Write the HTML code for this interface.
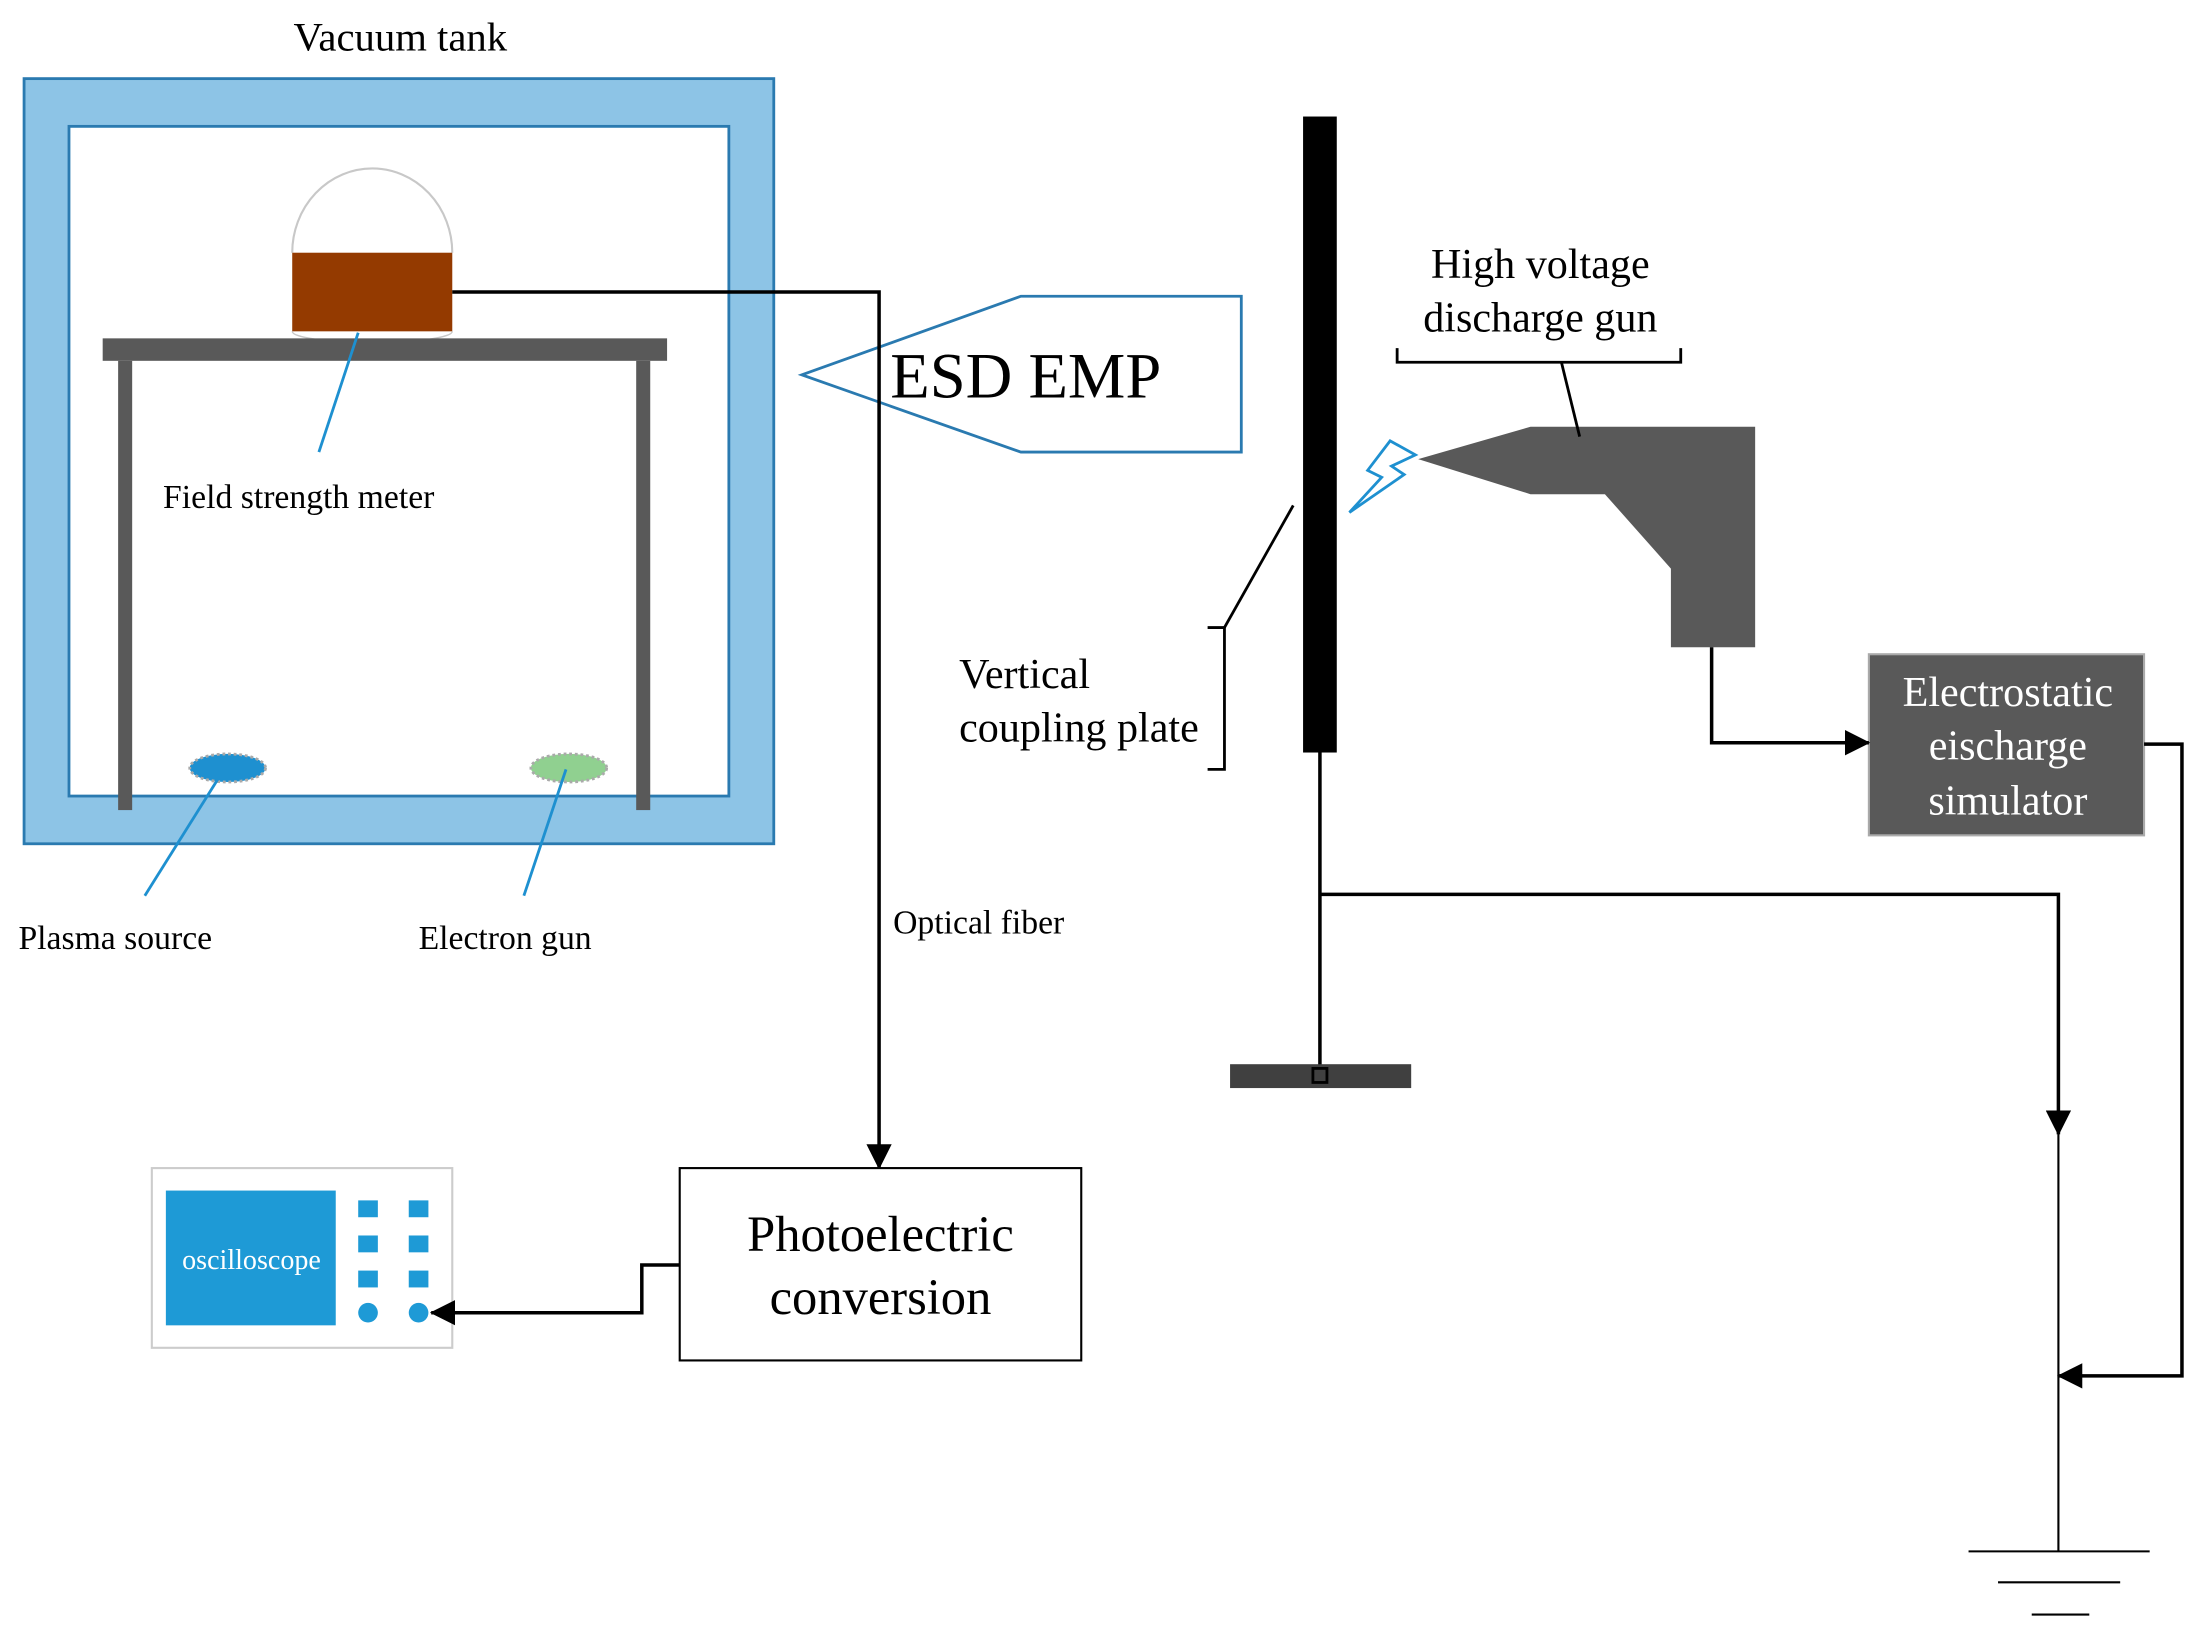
<!DOCTYPE html>
<html><head><meta charset="utf-8"><style>
html,body{margin:0;padding:0;background:#fff;}
svg{display:block;}
text{font-family:"Liberation Serif",serif;fill:#000;}
</style></head><body>
<svg width="2199" height="1630" viewBox="0 0 1566 1161" xmlns="http://www.w3.org/2000/svg">
<defs>
<marker id="ar2" markerWidth="18" markerHeight="18" refX="17" refY="9" orient="auto" markerUnits="userSpaceOnUse" viewBox="0 0 18 18">
<path d="M0,0 L18,9 L0,18 z" fill="#000"/></marker>
</defs>
<text x="285" y="36" font-size="29" text-anchor="middle">Vacuum tank</text>
<rect x="17" y="56" width="534" height="545" fill="#8dc4e6" stroke="#2a7ab0" stroke-width="2"/>
<rect x="49" y="90" width="470" height="477" fill="#fff" stroke="#2a7ab0" stroke-width="2"/>
<path d="M208,180 A57,60 0 0 1 322,180" fill="none" stroke="#c8c8c8" stroke-width="1.5"/>
<rect x="208" y="180" width="114" height="56" fill="#943a00"/>
<path d="M208,236 A57,8 0 0 0 322,236" fill="none" stroke="#c8c8c8" stroke-width="1"/>
<rect x="73" y="241" width="402" height="16" fill="#595959"/>
<rect x="84" y="257" width="10" height="320" fill="#595959"/>
<rect x="453" y="257" width="10" height="320" fill="#595959"/>
<line x1="255" y1="237" x2="227" y2="322" stroke="#1e90d0" stroke-width="2"/>
<text x="116" y="362" font-size="24">Field strength meter</text>
<ellipse cx="162" cy="547" rx="27" ry="10" fill="#1e90d0" stroke="#aaa" stroke-width="2" stroke-dasharray="2,2"/>
<ellipse cx="405" cy="547" rx="27" ry="10" fill="#90d090" stroke="#aaa" stroke-width="2" stroke-dasharray="2,2"/>
<line x1="155" y1="555" x2="103" y2="638" stroke="#1e90d0" stroke-width="2"/>
<line x1="403" y1="548" x2="373" y2="638" stroke="#1e90d0" stroke-width="2"/>
<text x="13" y="676" font-size="24">Plasma source</text>
<text x="298" y="676" font-size="24">Electron gun</text>
<polygon points="571,267 727,211 884,211 884,322 727,322" fill="#fff" stroke="#2a7ab0" stroke-width="2"/>
<text x="634" y="283" font-size="46">ESD EMP</text>
<polyline points="322,208 626,208 626,832" fill="none" stroke="#000" stroke-width="2.5" marker-end="url(#ar2)"/>
<text x="636" y="665" font-size="24">Optical fiber</text>
<rect x="484" y="832" width="286" height="137" fill="#fff" stroke="#000" stroke-width="1.5"/>
<text x="627" y="891" font-size="36" text-anchor="middle">Photoelectric</text>
<text x="627" y="936" font-size="36" text-anchor="middle">conversion</text>
<rect x="108" y="832" width="214" height="128" fill="#fff" stroke="#ccc" stroke-width="1.5"/>
<rect x="118" y="848" width="121" height="96" fill="#1e9ad6"/>
<text x="179" y="904" font-size="20" text-anchor="middle" style="fill:#fff">oscilloscope</text>
<g fill="#1e9ad6">
<rect x="255" y="855" width="14" height="12"/><rect x="291" y="855" width="14" height="12"/>
<rect x="255" y="880" width="14" height="12"/><rect x="291" y="880" width="14" height="12"/>
<rect x="255" y="905" width="14" height="12"/><rect x="291" y="905" width="14" height="12"/>
<circle cx="262" cy="935" r="7"/><circle cx="298" cy="935" r="7"/>
</g>
<polyline points="484,901 457,901 457,935 307,935" fill="none" stroke="#000" stroke-width="2.5" marker-end="url(#ar2)"/>
<rect x="928" y="83" width="24" height="453" fill="#000"/>
<line x1="940" y1="536" x2="940" y2="762" stroke="#000" stroke-width="2.5"/>
<rect x="876" y="758" width="129" height="17" fill="#404040"/>
<rect x="935" y="761" width="10" height="10" fill="none" stroke="#000" stroke-width="2"/>
<polyline points="940,637 1466,637 1466,808" fill="none" stroke="#000" stroke-width="2.5" marker-end="url(#ar2)"/>
<line x1="1466" y1="808" x2="1466" y2="1105" stroke="#000" stroke-width="1.5"/>
<line x1="1402" y1="1105" x2="1531" y2="1105" stroke="#000" stroke-width="1.5"/>
<line x1="1423" y1="1127" x2="1510" y2="1127" stroke="#000" stroke-width="1.5"/>
<line x1="1447" y1="1150" x2="1488" y2="1150" stroke="#000" stroke-width="1.5"/>
<rect x="1331" y="466" width="196" height="129" fill="#595959" stroke="#aaa" stroke-width="1.5"/>
<text x="1430" y="503" font-size="30" text-anchor="middle" style="fill:#fff">Electrostatic</text>
<text x="1430" y="541" font-size="30" text-anchor="middle" style="fill:#fff">eischarge</text>
<text x="1430" y="580" font-size="30" text-anchor="middle" style="fill:#fff">simulator</text>
<polyline points="1527,530 1554,530 1554,980 1466,980" fill="none" stroke="#000" stroke-width="2.5" marker-end="url(#ar2)"/>
<polygon points="1010,327 1090,304 1250,304 1250,461 1190,461 1190,405 1143,352 1090,352" fill="#595959"/>
<polyline points="1219,461 1219,529 1331,529" fill="none" stroke="#000" stroke-width="2.5" marker-end="url(#ar2)"/>
<polyline points="995,248 995,258 1197,258 1197,248" fill="none" stroke="#000" stroke-width="2"/>
<line x1="1112" y1="258" x2="1125" y2="311" stroke="#000" stroke-width="2"/>
<text x="1097" y="198" font-size="30" text-anchor="middle">High voltage</text>
<text x="1097" y="236" font-size="30" text-anchor="middle">discharge gun</text>
<polygon points="990,314 1008,324 991,332 1000,338 961,365 984,340 974,335" fill="#fff" stroke="#1e90d0" stroke-width="2"/>
<polyline points="860,447 872,447 872,548 860,548" fill="none" stroke="#000" stroke-width="2"/>
<line x1="872" y1="447" x2="921" y2="360" stroke="#000" stroke-width="2"/>
<text x="683" y="490" font-size="30">Vertical</text>
<text x="683" y="528" font-size="30">coupling plate</text>
</svg>
</body></html>
